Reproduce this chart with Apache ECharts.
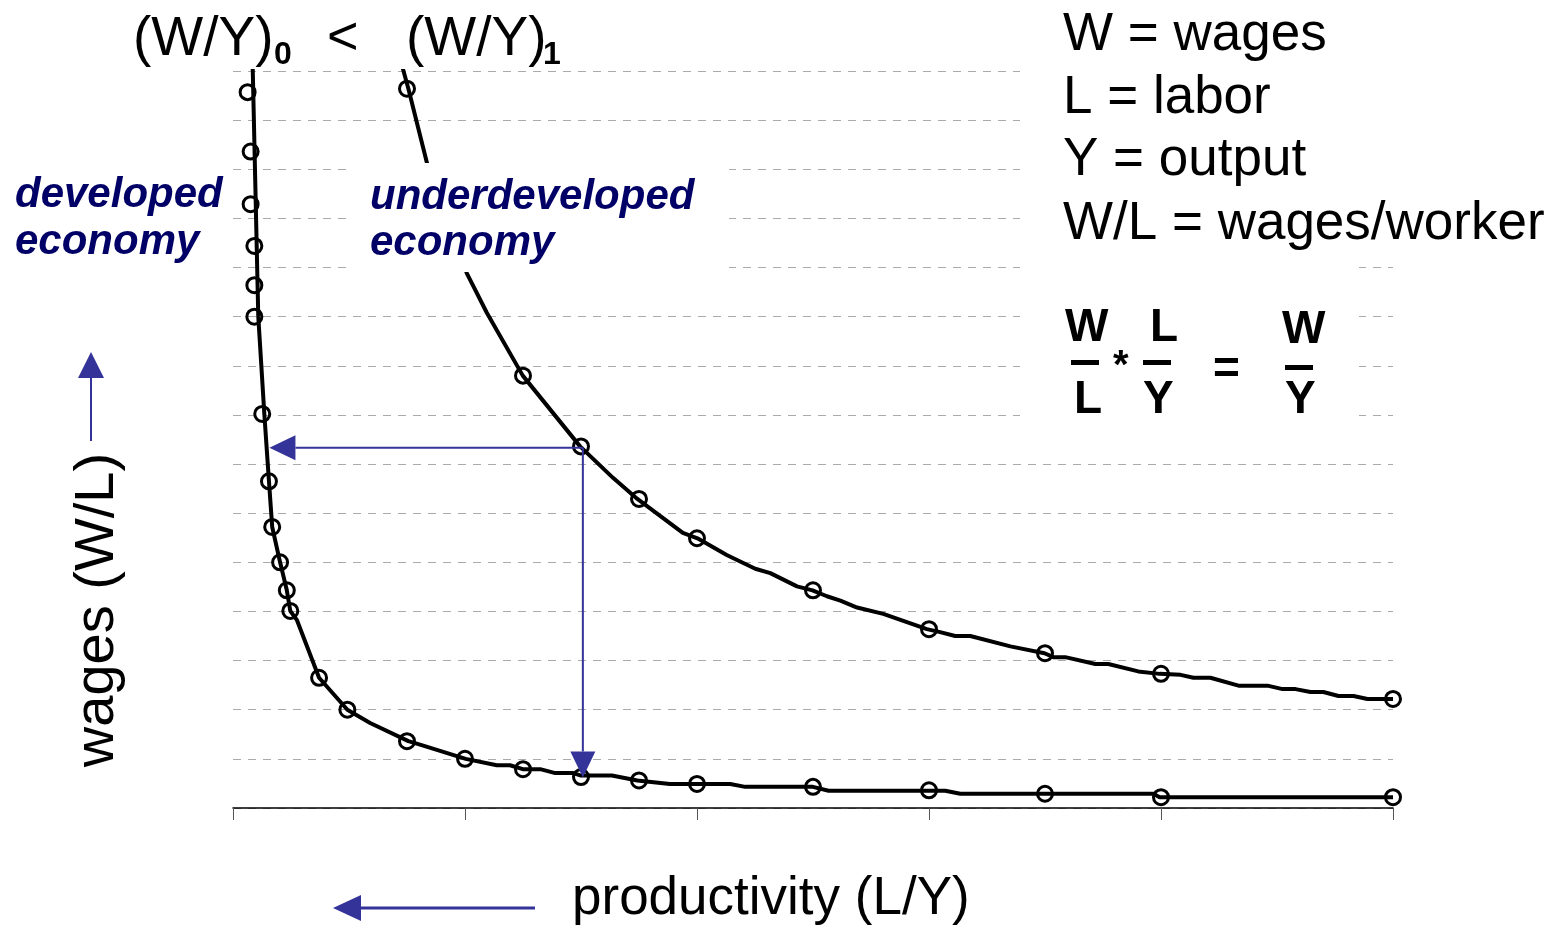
<!DOCTYPE html>
<html>
<head>
<meta charset="utf-8">
<script src="https://cdn.jsdelivr.net/npm/echarts@6/dist/echarts.min.js"></script>
<style>
  html, body { margin: 0; padding: 0; background: #fff; }
  #chart { width: 1560px; height: 933px; }
</style>
</head>
<body>
<div id="chart"></div>
<script>
// x = productivity (L/Y), y = wages (W/L), both unitless (axis has no labels)
const xTicks = [0, 1, 2, 3, 4, 5]

// developed economy: drawn line path, then the circle markers
const developedPath = [
  [0.085, 15.05], [0.109, 10.0], [0.135, 8.02], [0.155, 6.65], [0.169, 5.72],
  [0.203, 5.0], [0.232, 4.43], [0.247, 4.01], [0.275, 3.83], [0.371, 2.65],
  [0.493, 2.0], [0.591, 1.73], [0.756, 1.36], [0.806, 1.29], [1.003, 1.0],
  [1.137, 0.87], [1.194, 0.87], [1.249, 0.79], [1.324, 0.79], [1.389, 0.71],
  [1.467, 0.71], [1.5, 0.66], [1.633, 0.66], [1.743, 0.56], [1.883, 0.49],
  [2.143, 0.49], [2.208, 0.43], [2.5, 0.43], [2.567, 0.35], [3.07, 0.35],
  [3.135, 0.29], [3.967, 0.29], [3.994, 0.22], [5.0, 0.22]
]
const developedMarks = [
  [0.063, 14.57], [0.076, 13.36], [0.076, 12.29], [0.092, 11.44], [0.092, 10.64],
  [0.092, 10.0], [0.126, 8.02], [0.155, 6.65], [0.169, 5.72], [0.203, 5.0],
  [0.232, 4.43], [0.247, 4.01], [0.371, 2.65], [0.493, 2.0], [0.75, 1.36],
  [1.0, 1.0], [1.25, 0.79], [1.5, 0.63], [1.75, 0.56], [2.0, 0.49],
  [2.5, 0.43], [3.0, 0.36], [3.5, 0.29], [4.0, 0.22], [5.0, 0.22]
]

// underdeveloped economy
const underPath = [
  [0.732, 15.05], [0.756, 14.64], [0.838, 13.09], [1.008, 10.88], [1.094, 10.08],
  [1.249, 8.8], [1.496, 7.36], [1.638, 6.72], [1.743, 6.29], [1.939, 5.6],
  [2.002, 5.49], [2.128, 5.15], [2.251, 4.87], [2.316, 4.78], [2.431, 4.51],
  [2.498, 4.43], [2.56, 4.31], [2.618, 4.22], [2.69, 4.08], [2.803, 3.95],
  [2.991, 3.64], [3.048, 3.58], [3.113, 3.5], [3.178, 3.5], [3.351, 3.29],
  [3.498, 3.15], [3.536, 3.07], [3.587, 3.07], [3.717, 2.93], [3.773, 2.93],
  [3.902, 2.78], [3.994, 2.73], [4.084, 2.71], [4.14, 2.65], [4.213, 2.65],
  [4.334, 2.49], [4.459, 2.49], [4.524, 2.42], [4.58, 2.42], [4.644, 2.36],
  [4.7, 2.36], [4.765, 2.28], [4.83, 2.28], [4.89, 2.22], [5.0, 2.22]
]
const underMarks = [
  [0.75, 14.64], [1.25, 8.8], [1.5, 7.36], [1.75, 6.29], [2.0, 5.49],
  [2.5, 4.43], [3.0, 3.64], [3.5, 3.15], [4.0, 2.73], [5.0, 2.22]
]

// arrows inside the plot: [fromX, fromY, toX, toY]
const arrowData = [
  [1.508, 7.33, 0.157, 7.33],
  [1.508, 7.33, 1.508, 0.62]
]

const BLUE = '#333399'
const NAVY = '#000066'
const FONT = "'Liberation Sans', Arial, Helvetica, sans-serif"

// text helper: place by left x and baseline y
// (rotated text is placed by its centre and baseline x)
const txt = (x, base, text, size, opt = {}) => {
  const shift = 0.31 * size
  const rot = opt.rotation || 0
  return {
    type: 'text',
    z: 101,
    x: rot ? x - shift : x,
    y: rot ? base : base - shift,
    rotation: rot,
    style: {
      text: text,
      fill: opt.color || '#000',
      font: (opt.weight || '') + ' ' + size + 'px ' + FONT,
      textAlign: opt.align || 'left',
      textVerticalAlign: 'middle'
    }
  }
}

const rect = (x, y, w, h, fill, z) => ({
  type: 'rect', z: z, shape: { x: x, y: y, width: w, height: h },
  style: { fill: fill }
})

// arrow made of a line and a filled triangle head
const renderArrow = (params, api) => {
  const p0 = api.coord([api.value(0), api.value(1)])
  const p1 = api.coord([api.value(2), api.value(3)])
  const dx = p1[0] - p0[0], dy = p1[1] - p0[1]
  const len = Math.sqrt(dx * dx + dy * dy)
  const ux = dx / len, uy = dy / len
  const head = 26, half = 12.5
  const bx = p1[0] - ux * head, by = p1[1] - uy * head
  return {
    type: 'group',
    children: [
      { type: 'line', shape: { x1: p0[0], y1: p0[1], x2: bx, y2: by },
        style: { stroke: BLUE, lineWidth: 2 } },
      { type: 'polygon',
        shape: { points: [[p1[0], p1[1]], [bx - uy * half, by + ux * half], [bx + uy * half, by - ux * half]] },
        style: { fill: BLUE } }
    ]
  }
}

const markerStyle = {
  color: 'rgba(255,255,255,0)',
  borderColor: '#000',
  borderWidth: 3,
  opacity: 1
}

const myChart = echarts.init(document.getElementById('chart'))

const myOption = {
  animation: false,
  backgroundColor: '#fff',
  grid: { left: 233, right: 167, top: 71, bottom: 125 },

  xAxis: {
    type: 'value',
    min: xTicks[0],
    max: xTicks[xTicks.length - 1],
    interval: 1,
    axisLine: { lineStyle: { color: '#000', width: 1.5 } },
    axisTick: { show: true, length: 12, lineStyle: { color: '#555', width: 1 } },
    axisLabel: { show: false },
    splitLine: { show: false }
  },

  yAxis: {
    type: 'value',
    min: 0,
    max: 15,
    interval: 1,
    axisLine: { show: false },
    axisTick: { show: false },
    axisLabel: { show: false },
    splitLine: { lineStyle: { color: '#aaa', width: 1, type: [8, 7] } }
  },

  series: [
    { name: 'developed', type: 'line', data: developedPath, showSymbol: false, symbol: 'none',
      clip: true, lineStyle: { color: '#000', width: 4 }, z: 3 },
    { name: 'developedMarks', type: 'scatter', data: developedMarks, symbol: 'circle',
      symbolSize: 15, itemStyle: markerStyle, z: 4 },
    { name: 'underdeveloped', type: 'line', data: underPath, showSymbol: false, symbol: 'none',
      clip: true, lineStyle: { color: '#000', width: 4 }, z: 3 },
    { name: 'underMarks', type: 'scatter', data: underMarks, symbol: 'circle',
      symbolSize: 15, itemStyle: markerStyle, z: 4 },
    { name: 'arrows', type: 'custom', data: arrowData, renderItem: renderArrow,
      encode: { x: [0, 2], y: [1, 3] }, z: 5 }
  ],

  graphic: [
    // white boxes behind the text blocks (hide the grid lines there)
    rect(349, 163, 380, 109, '#fff', 100),
    rect(1020, 0, 380, 245, '#fff', 100),
    rect(1020, 245, 339, 185, '#fff', 100),

    // top title
    txt(133, 57, '(W/Y)', 55),
    txt(274, 65, '0', 32, { weight: 'bold' }),
    txt(327, 56, '<', 54),
    txt(406, 57, '(W/Y)', 55),
    txt(543, 65, '1', 32, { weight: 'bold' }),

    // legend of symbols
    txt(1063, 52, 'W = wages', 53),
    txt(1063, 115, 'L = labor', 53),
    txt(1063, 177, 'Y = output', 53),
    txt(1063, 241, 'W/L = wages/worker', 53),

    // formula W/L * L/Y = W/Y
    txt(1065, 343, 'W', 46, { weight: 'bold' }),
    rect(1071, 360, 28, 5, '#000', 101),
    txt(1074, 415, 'L', 46, { weight: 'bold' }),
    txt(1113, 379, '*', 40, { weight: 'bold' }),
    txt(1150, 343, 'L', 46, { weight: 'bold' }),
    rect(1143, 360, 28, 5, '#000', 101),
    txt(1143, 415, 'Y', 46, { weight: 'bold' }),
    txt(1213, 385, '=', 46, { weight: 'bold' }),
    txt(1282, 345, 'W', 46, { weight: 'bold' }),
    rect(1285, 365, 28, 5, '#000', 101),
    txt(1285, 415, 'Y', 46, { weight: 'bold' }),

    // curve labels
    txt(15, 208, 'developed', 42, { weight: 'italic bold', color: NAVY }),
    txt(15, 255, 'economy', 42, { weight: 'italic bold', color: NAVY }),
    txt(370, 210, 'underdeveloped', 42, { weight: 'italic bold', color: NAVY }),
    txt(370, 256, 'economy', 42, { weight: 'italic bold', color: NAVY }),

    // axis names
    txt(115, 610, 'wages (W/L)', 56, { rotation: Math.PI / 2, align: 'center' }),
    txt(572, 916, 'productivity (L/Y)', 53),

    // arrows outside the plot
    { type: 'line', z: 101, shape: { x1: 91, y1: 441, x2: 91, y2: 377 }, style: { stroke: BLUE, lineWidth: 2 } },
    { type: 'polygon', z: 101, shape: { points: [[91, 352], [78, 378], [104, 378]] }, style: { fill: BLUE } },
    { type: 'line', z: 101, shape: { x1: 535, y1: 908, x2: 360, y2: 908 }, style: { stroke: BLUE, lineWidth: 3 } },
    { type: 'polygon', z: 101, shape: { points: [[333, 908], [361, 895], [361, 921]] }, style: { fill: BLUE } }
  ]
}

myChart.setOption(myOption)
</script>
</body>
</html>
